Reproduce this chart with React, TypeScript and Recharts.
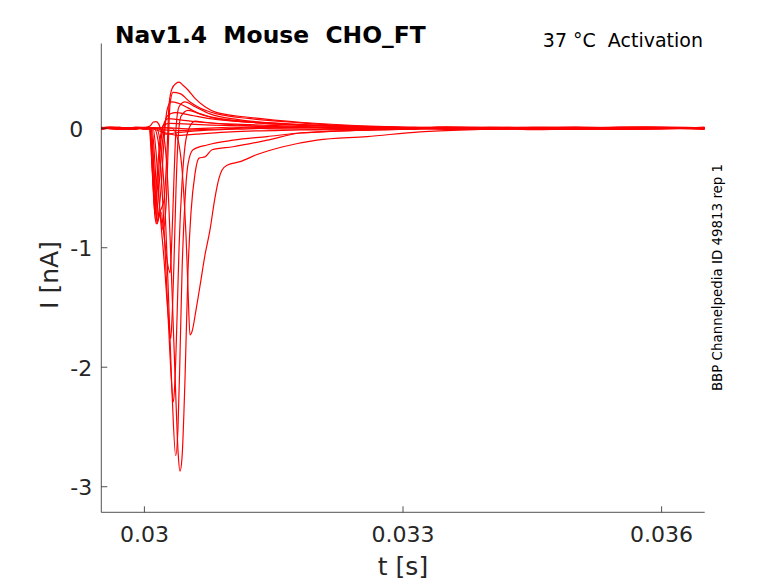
import React from 'react';
import { LineChart, Line, XAxis, YAxis } from 'recharts';

type P = [number, number];

// time [s], current [nA]
const flat01: P[] = [[0.0295,0.008],[0.0296,-0.006],[0.0297,-0.01],[0.0298,0.006],[0.0299,0.004],[0.03,-0.008],[0.03008,-0.003],[0.0302,0.006],[0.0305,-0.005],[0.031,0.008],[0.0315,-0.006],[0.032,-0.01],[0.0325,0.008],[0.033,0.005],[0.0335,-0.01],[0.034,-0.004],[0.0345,0.01],[0.035,0.007],[0.0355,-0.008],[0.036,-0.005],[0.0365,0.009]];
const flat02: P[] = [[0.0295,-0.012],[0.0296,0.006],[0.0297,0.01],[0.0298,-0.004],[0.0299,-0.01],[0.03,0.008],[0.03008,0.005],[0.0302,-0.012],[0.0304,-0.02],[0.0307,-0.01],[0.031,-0.004],[0.0315,0.01],[0.032,0.006],[0.0325,-0.01],[0.033,-0.008],[0.0335,0.012],[0.034,0.004],[0.0345,-0.012],[0.035,-0.006],[0.0355,0.01],[0.036,0.008],[0.0365,-0.01]];
const flat03: P[] = [[0.0295,0.002],[0.0296,0.012],[0.0298,-0.005],[0.0299,0.01],[0.03005,0.004],[0.0302,-0.03],[0.0304,-0.06],[0.0306,-0.05],[0.031,-0.03],[0.0318,-0.015],[0.0328,-0.005],[0.0334,0.01],[0.034,0.006],[0.0346,-0.008],[0.035,-0.003],[0.0358,0.012],[0.0365,0.005]];
const bump01: P[] = [[0.0295,0.008],[0.0298,0.0],[0.03001,0.006],[0.03007,0.02],[0.0301,0.05],[0.030135,0.055],[0.03017,0.03],[0.0302,-0.03],[0.03025,-0.05],[0.03035,-0.04],[0.03065,-0.02],[0.0312,-0.005],[0.032,0.005],[0.033,-0.004],[0.034,0.006],[0.035,-0.005],[0.0365,0.004]];
const sweep01: P[] = [[0.0295,-0.004],[0.0298,0.006],[0.03003,-0.005],[0.0302,0.004],[0.03032,0],[0.03039,-0.1],[0.030448,-0.45],[0.030483,-0.9],[0.030506,-1.35],[0.030529,-1.73],[0.030553,-1.7],[0.030599,-1.52],[0.030645,-1.32],[0.030703,-1.06],[0.030761,-0.85],[0.030819,-0.58],[0.030865,-0.42],[0.030901,-0.35],[0.03096,-0.31],[0.03111,-0.28],[0.031307,-0.22],[0.031609,-0.155],[0.032003,-0.1],[0.032583,-0.07],[0.033198,-0.03],[0.033895,-0.01],[0.0348,0.006],[0.0356,-0.008],[0.0365,0.005]];
const sweep02: P[] = [[0.0295,0.003],[0.0298,-0.007],[0.03004,0.005],[0.030181,0],[0.030228,-0.08],[0.030274,-0.5],[0.03032,-1.35],[0.030367,-2.3],[0.03039,-2.7],[0.030413,-2.87],[0.030437,-2.75],[0.030471,-2.1],[0.030506,-1.19],[0.030541,-0.7],[0.030587,-0.38],[0.030634,-0.25],[0.030703,-0.24],[0.030785,-0.18],[0.031029,-0.155],[0.031423,-0.1],[0.031806,-0.04],[0.032386,-0.02],[0.033198,-0.005],[0.0342,0.008],[0.0352,-0.006],[0.0365,0.003]];
const sweep03: P[] = [[0.0295,-0.005],[0.0298,0.004],[0.03003,-0.003],[0.030135,0],[0.030181,-0.1],[0.030228,-0.5],[0.030274,-1.3],[0.03032,-2.2],[0.030363,-2.74],[0.03039,-2.5],[0.030413,-1.9],[0.030437,-1.19],[0.030471,-0.6],[0.030506,-0.3],[0.030564,-0.18],[0.030727,-0.14],[0.031029,-0.1],[0.031423,-0.07],[0.031806,-0.04],[0.032154,-0.025],[0.032966,-0.01],[0.034,0.006],[0.035,-0.007],[0.0365,0.004]];
const sweep04: P[] = [[0.0295,0.006],[0.0298,-0.004],[0.03003,0.004],[0.030112,0],[0.030158,-0.1],[0.030204,-0.5],[0.030251,-1.2],[0.030297,-1.9],[0.030336,-2.29],[0.030355,-2.1],[0.030378,-1.6],[0.030402,-1.0],[0.030437,-0.45],[0.030471,-0.15],[0.030518,0.0],[0.030587,0.06],[0.030703,0.05],[0.031226,0.02],[0.031806,0.005],[0.033,-0.006],[0.034,0.007],[0.035,-0.005],[0.0365,0.006]];
const sweep05: P[] = [[0.0295,-0.003],[0.0298,0.006],[0.03003,-0.004],[0.0301,0],[0.030135,-0.2],[0.030181,-0.7],[0.030228,-1.1],[0.030274,-1.55],[0.030305,-1.76],[0.03032,-1.6],[0.030344,-1.1],[0.030367,-0.5],[0.03039,-0.1],[0.030425,0.1],[0.030506,0.15],[0.030645,0.12],[0.030843,0.08],[0.031226,0.05],[0.031806,0.025],[0.032966,0.005],[0.034,-0.007],[0.035,0.006],[0.0365,-0.004]];
const sweep06: P[] = [[0.0295,0.004],[0.0298,-0.006],[0.03003,0.003],[0.030088,0],[0.030123,-0.3],[0.030158,-0.75],[0.030193,-0.7],[0.030228,-0.9],[0.030262,-1.1],[0.030297,-1.21],[0.03032,-0.9],[0.030344,-0.4],[0.030367,0.0],[0.030402,0.18],[0.030471,0.22],[0.030587,0.18],[0.030761,0.12],[0.03111,0.07],[0.031574,0.04],[0.032386,0.015],[0.033198,0.0],[0.0342,0.008],[0.0353,-0.006],[0.0365,0.005]];
const sweep07: P[] = [[0.0295,-0.004],[0.0298,0.005],[0.03003,-0.002],[0.030077,0],[0.030112,-0.35],[0.030146,-0.8],[0.030181,-0.72],[0.030216,-0.85],[0.030251,-0.65],[0.030274,-0.2],[0.030297,0.2],[0.030332,0.3],[0.030413,0.29],[0.030529,0.22],[0.030645,0.17],[0.030843,0.12],[0.031226,0.08],[0.031806,0.045],[0.032386,0.02],[0.033198,0.005],[0.034,-0.006],[0.035,0.008],[0.0365,-0.003]];
const sweep08: P[] = [[0.0295,0.002],[0.0298,-0.005],[0.03003,0.006],[0.030077,0],[0.030112,-0.4],[0.030146,-0.78],[0.030181,-0.7],[0.030228,-0.6],[0.030262,-0.2],[0.030286,0.2],[0.03032,0.33],[0.030367,0.375],[0.030402,0.385],[0.030448,0.36],[0.030506,0.32],[0.030587,0.25],[0.030703,0.18],[0.030843,0.13],[0.031226,0.09],[0.031806,0.05],[0.032386,0.025],[0.033198,0.008],[0.034127,0.0],[0.035,0.007],[0.0365,-0.004]];
const sweep09: P[] = [[0.0295,-0.006],[0.0298,0.003],[0.03003,-0.004],[0.030065,0],[0.0301,-0.4],[0.030135,-0.8],[0.030158,-0.75],[0.030193,-0.5],[0.030228,-0.1],[0.030262,0.15],[0.030309,0.22],[0.03039,0.21],[0.030506,0.17],[0.030645,0.12],[0.030878,0.08],[0.031342,0.05],[0.031806,0.03],[0.032734,0.01],[0.033547,0.0],[0.0345,-0.007],[0.0355,0.006],[0.0365,0.0]];
const sweep10: P[] = [[0.0295,0.005],[0.0298,-0.003],[0.03003,0.004],[0.030065,0],[0.0301,-0.45],[0.030129,-0.78],[0.030158,-0.6],[0.030193,-0.25],[0.030228,0.0],[0.030262,0.1],[0.030355,0.13],[0.030529,0.11],[0.030761,0.08],[0.031226,0.05],[0.031806,0.025],[0.032966,0.005],[0.034,-0.008],[0.035,0.005],[0.0365,-0.005]];
const sweep11: P[] = [[0.0295,-0.002],[0.0298,0.006],[0.03003,-0.005],[0.030065,0],[0.030094,-0.4],[0.030123,-0.72],[0.030146,-0.55],[0.030181,-0.2],[0.030216,0.02],[0.030274,0.08],[0.030413,0.07],[0.030645,0.05],[0.031226,0.03],[0.032038,0.01],[0.032966,0.0],[0.034,0.007],[0.035,-0.008],[0.0365,0.004]];
const sweep12: P[] = [[0.0295,0.003],[0.0298,-0.006],[0.03003,0.002],[0.030054,0],[0.030088,-0.3],[0.030117,-0.6],[0.030146,-0.4],[0.030181,-0.1],[0.030216,0.02],[0.030297,0.04],[0.030645,0.03],[0.031806,0.01],[0.032966,0.0],[0.034,-0.006],[0.035,0.007],[0.0365,-0.003]];

const traces: P[][] = [flat01, flat02, flat03, bump01, sweep01, sweep02, sweep03, sweep04, sweep05, sweep06, sweep07, sweep08, sweep09, sweep10, sweep11, sweep12];

const xTicks = [0.03, 0.033, 0.036];
const xTickLabels = ['0.03', '0.033', '0.036'];
const yTicks = [-3, -2, -1, 0];
const yTickLabels = ['-3', '-2', '-1', '0'];

const title = 'Nav1.4  Mouse  CHO_FT';
const subtitle = '37 °C  Activation';
const sideNote = 'BBP Channelpedia ID 49813 rep 1';
const xLabel = 't [s]';
const yLabel = 'I [nA]';

const FONT = 'DejaVu Sans';
const AX = '#262626';

const XTick = (props: any) => {
  const { x, y, payload } = props;
  const idx = xTicks.indexOf(payload.value);
  return (
    <g>
      <line x1={x} y1={y} x2={x} y2={y - 6} stroke={AX} strokeWidth={0.8} />
      <text x={x} y={y + 29.5} textAnchor="middle" fill={AX} fontSize={22} fontFamily={FONT}>
        {idx >= 0 ? xTickLabels[idx] : String(payload.value)}
      </text>
    </g>
  );
};

const YTick = (props: any) => {
  const { x, y, payload } = props;
  const idx = yTicks.indexOf(payload.value);
  const off = payload.value === 0 ? 18 : 9;
  return (
    <g>
      <line x1={x} y1={y} x2={x + 6} y2={y} stroke={AX} strokeWidth={0.8} />
      <text x={x - off} y={y + 8.3} textAnchor="end" fill={AX} fontSize={22} fontFamily={FONT}>
        {idx >= 0 ? yTickLabels[idx] : String(payload.value)}
      </text>
    </g>
  );
};

export default function App() {
  const series = traces.map((tr) => tr.map(([t, I]) => ({ t, I })));
  return (
    <div style={{ position: 'absolute', left: 0, top: 0, width: 778, height: 583, background: '#fff' }}>
      <LineChart width={778} height={583} margin={{ top: 43.5, right: 73.3, bottom: 40.7, left: 41.3 }}>
        <XAxis
          type="number"
          dataKey="t"
          domain={[0.0295, 0.0365]}
          ticks={xTicks}
          allowDataOverflow
          height={30}
          stroke={AX}
          strokeWidth={0.8}
          tickLine={false}
          tickSize={0}
          tickMargin={0}
          tick={<XTick />}
          interval={0}
        />
        <YAxis
          type="number"
          dataKey="I"
          domain={[-3.214, 0.709]}
          ticks={yTicks}
          allowDataOverflow
          width={60}
          stroke={AX}
          strokeWidth={0.8}
          tickLine={false}
          tickSize={0}
          tickMargin={0}
          tick={<YTick />}
          interval={0}
        />
        {series.map((d, i) => (
          <Line
            key={i}
            data={d}
            dataKey="I"
            type="monotone"
            stroke="#ff0000"
            strokeWidth={1.2}
            dot={false}
            activeDot={false}
            isAnimationActive={false}
          />
        ))}
      </LineChart>
      <svg width={778} height={583} style={{ position: 'absolute', left: 0, top: 0, pointerEvents: 'none' }}>
        <text x={115} y={43} fontSize={23.4} fontWeight="bold" fontFamily={FONT} fill="#000" style={{ whiteSpace: 'pre' }}>
          {title}
        </text>
        <text x={703} y={47} fontSize={19} textAnchor="end" fontFamily={FONT} fill="#000" style={{ whiteSpace: 'pre' }}>
          {subtitle}
        </text>
        <text transform="translate(722,277.5) rotate(-90)" fontSize={13.4} textAnchor="middle" fontFamily={FONT} fill="#000">
          {sideNote}
        </text>
        <text x={403} y={575} fontSize={25} textAnchor="middle" fontFamily={FONT} fill={AX}>
          {xLabel}
        </text>
        <text transform="translate(58,275) rotate(-90)" fontSize={25} textAnchor="middle" fontFamily={FONT} fill={AX}>
          {yLabel}
        </text>
      </svg>
    </div>
  );
}
